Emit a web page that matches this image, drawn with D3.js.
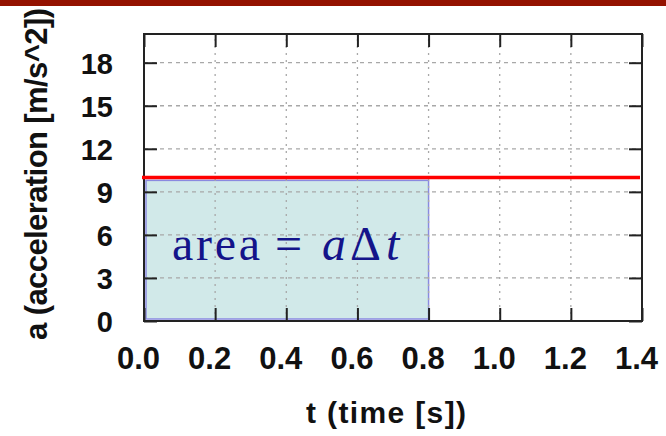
<!DOCTYPE html>
<html>
<head>
<meta charset="utf-8">
<script src="https://cdnjs.cloudflare.com/ajax/libs/d3/7.8.5/d3.min.js"></script>
<style>
  body { margin: 0; background: #fff; }
  svg text { font-family: "Liberation Sans", Arial, sans-serif; font-weight: bold; }
</style>
</head>
<body>
<div id="chart"></div>
<script>
var width = 666,
    height = 436;

// data
var xTicks = [0.0, 0.2, 0.4, 0.6, 0.8, 1.0, 1.2, 1.4];
var yTicks = [0, 3, 6, 9, 12, 15, 18];
var accel = [10, 10];          // constant acceleration line a(t)
var accelTimes = [0, 1.4];
var areaT = [0, 0.8];          // shaded interval
var areaA = [0, 9.8];

var margin = {top: 34, right: 24, bottom: 115, left: 144};

var x = d3.scaleLinear().domain([0, 1.4]).range([margin.left, width - margin.right]);
var y = d3.scaleLinear().domain([0, 20]).range([height - margin.bottom, margin.top]);

var svg = d3.select("#chart").append("svg")
    .attr("width", width)
    .attr("height", height);

// top band
svg.append("rect")
    .attr("x", 0).attr("y", 0)
    .attr("width", width).attr("height", 6)
    .attr("fill", "#941200");

var plotW = x(1.4) - x(0), plotH = y(0) - y(20);

// shaded area rectangle (drawn under grid)
svg.append("rect")
    .attr("x", x(areaT[0]) + 2)
    .attr("y", y(areaA[1]))
    .attr("width", x(areaT[1]) - x(areaT[0]) - 2)
    .attr("height", y(areaA[0]) - y(areaA[1]) - 2)
    .attr("fill", "#9fd0d0")
    .attr("fill-opacity", 0.48)
    .attr("stroke", "#8a8ae0")
    .attr("stroke-width", 1.5);

// grid
var grid = svg.append("g").attr("class", "grid");
grid.selectAll(".gy")
    .data(yTicks.filter(function(d) { return d > 0; }))
    .enter().append("line")
      .attr("x1", x(0)).attr("x2", x(1.4))
      .attr("y1", function(d) { return y(d); })
      .attr("y2", function(d) { return y(d); })
      .attr("stroke", "#a8a8a8")
      .attr("stroke-width", 1.3)
      .attr("stroke-dasharray", "4,4");
grid.selectAll(".gx")
    .data(xTicks.filter(function(d) { return d > 0 && d < 1.4; }))
    .enter().append("line")
      .attr("x1", function(d) { return x(d); })
      .attr("x2", function(d) { return x(d); })
      .attr("y1", y(0)).attr("y2", y(20))
      .attr("stroke", "#a8a8a8")
      .attr("stroke-width", 1.3)
      .attr("stroke-dasharray", "2,5");

// axes with inward ticks, mirrored
var fmt = d3.format(".1f");
var gx = svg.append("g")
    .attr("transform", "translate(0," + y(0) + ")")
    .call(d3.axisBottom(x).tickValues(xTicks).tickFormat(fmt).tickSize(-13).tickPadding(26));
var gxt = svg.append("g")
    .attr("transform", "translate(0," + y(20) + ")")
    .call(d3.axisTop(x).tickValues(xTicks).tickFormat("").tickSize(-13));
var gy = svg.append("g")
    .attr("transform", "translate(" + x(0) + ",0)")
    .call(d3.axisLeft(y).tickValues(yTicks).tickSize(-13).tickPadding(31));
var gyr = svg.append("g")
    .attr("transform", "translate(" + x(1.4) + ",0)")
    .call(d3.axisRight(y).tickValues(yTicks).tickFormat("").tickSize(-13));

[gx, gxt, gy, gyr].forEach(function(g) {
  g.select(".domain").remove();
  g.selectAll(".tick line").attr("stroke", "#222").attr("stroke-width", 2);
  g.selectAll(".tick text")
    .attr("fill", "#111")
    .style("font-weight", "bold");
});
gx.selectAll(".tick text").attr("dx", -6).style("font-size", "31px");
gy.selectAll(".tick text").attr("dy", "0.36em").style("font-size", "29px");

// frame
svg.append("rect")
    .attr("x", x(0)).attr("y", y(20))
    .attr("width", plotW).attr("height", plotH)
    .attr("fill", "none")
    .attr("stroke", "#222")
    .attr("stroke-width", 2);

// acceleration line
var line = d3.line()
    .x(function(d, i) { return x(d); })
    .y(function(d, i) { return y(accel[i]); });
svg.append("path")
    .datum(accelTimes)
    .attr("d", line)
    .attr("transform", "translate(-2,0)")
    .attr("fill", "none")
    .attr("stroke", "#ff0000")
    .attr("stroke-width", 3.5);

// area label
var lab = svg.append("text")
    .attr("y", 260)
    .attr("fill", "#14148a")
    .style("font-family", "'Liberation Serif', 'Times New Roman', serif")
    .style("font-weight", "normal")
    .style("font-size", "48px");
lab.append("tspan").attr("x", 172).attr("textLength", 88).text("area");
lab.append("tspan").attr("x", 275).text("=");
lab.append("tspan").attr("x", 322).style("font-style", "italic").text("a");
lab.append("tspan").attr("x", 350).text("\u0394");
lab.append("tspan").attr("x", 386).style("font-style", "italic").text("t");

// axis titles
svg.append("text")
    .attr("transform", "translate(47,174) rotate(-90)")
    .attr("text-anchor", "middle")
    .attr("textLength", 332)
    .attr("lengthAdjust", "spacing")
    .attr("fill", "#111")
    .style("font-size", "31px")
    .text("a (acceleration [m/s^2])");

svg.append("text")
    .attr("x", 386).attr("y", 423)
    .attr("text-anchor", "middle")
    .attr("textLength", 160)
    .attr("lengthAdjust", "spacing")
    .attr("fill", "#111")
    .style("font-size", "30px")
    .text("t (time [s])");
</script>
</body>
</html>
